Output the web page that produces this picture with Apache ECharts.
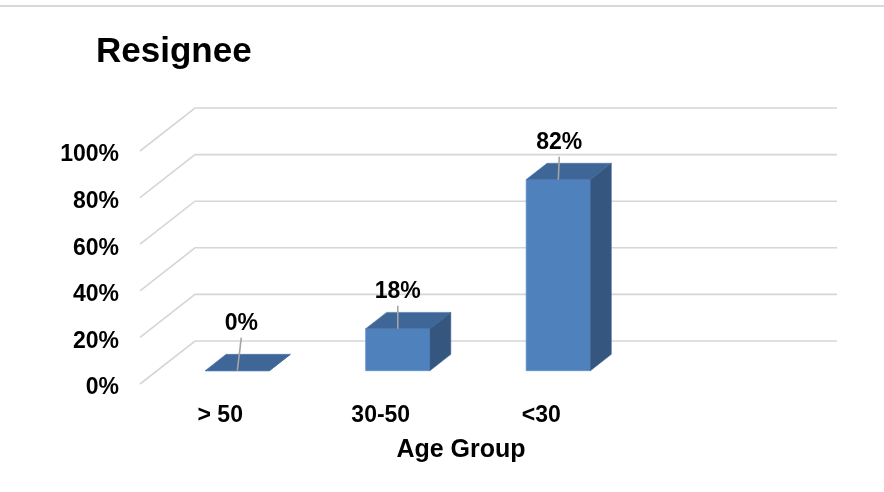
<!DOCTYPE html>
<html>
<head>
<meta charset="utf-8">
<title>Resignee</title>
<script src="https://cdn.jsdelivr.net/npm/echarts@6/dist/echarts.min.js"></script>
<style>
  html, body { margin: 0; padding: 0; background: #ffffff; }
  #chart { width: 884px; height: 492px; }
</style>
</head>
<body>
<div id="chart"></div>
<script>
// Age groups along the floor (the last slot is left empty)
const categories = ['> 50', '30-50', '<30', ''];
// Share of resignees per age group, in percent
const resigneeShare = [0, 18, 82];
// Value-axis ticks, in percent
const yTicks = [0, 20, 40, 60, 80, 100];

// Oblique depth of the plot box (front edge -> back wall), in pixels
const DEPTH_X = 55;
const DEPTH_Y = -43;
// Bars sit in the middle of the depth
const BAR_FRONT = 0.31;
const BAR_DEPTH = 0.38;
const BAR_WIDTH = 0.4;
// Data-label placement above each bar's front top edge
const LABEL_LIFT = [47, 37, 37];
const LABEL_SHIFT = [4, 0, 1];

const FONT = '"Liberation Sans", Arial, sans-serif';
const GRID_COLOR = '#d6d6d6';

const chart = echarts.init(document.getElementById('chart'), null, { renderer: 'canvas' });

function renderGridLine(params, api) {
  const cs = params.coordSys;
  const y = api.coord([0, api.value(1)])[1];
  const x0 = cs.x;
  return {
    type: 'polyline',
    shape: {
      points: [
        [x0, y],
        [x0 + DEPTH_X, y + DEPTH_Y],
        [x0 + cs.width + DEPTH_X, y + DEPTH_Y]
      ]
    },
    style: { stroke: GRID_COLOR, lineWidth: 1.6, fill: null },
    silent: true
  };
}

function renderBar(params, api) {
  const i = api.value(0);
  const v = api.value(1);
  const base = api.coord([i, 0]);
  const top = api.coord([i, v]);
  const band = api.size([1, 0])[0];
  const w = band * BAR_WIDTH;
  const fx = DEPTH_X * BAR_FRONT, fy = DEPTH_Y * BAR_FRONT;
  const bx = DEPTH_X * BAR_DEPTH, by = DEPTH_Y * BAR_DEPTH;
  const cx = base[0] + fx;
  const xl = cx - w / 2, xr = cx + w / 2;
  const yb = base[1] + fy, yt = top[1] + fy;
  const idx = params.dataIndex;
  const lift = LABEL_LIFT[idx] !== undefined ? LABEL_LIFT[idx] : 37;
  const shift = LABEL_SHIFT[idx] || 0;
  const ly = yt - lift;

  return {
    type: 'group',
    children: [
      {
        type: 'rect',
        shape: { x: xl, y: yt, width: w, height: Math.max(yb - yt, 0) },
        style: { fill: '#4f81bd', stroke: '#5d8ecb', lineWidth: 0.8 }
      },
      {
        type: 'polygon',
        shape: { points: [[xl, yt], [xr, yt], [xr + bx, yt + by], [xl + bx, yt + by]] },
        style: { fill: '#3e6696', stroke: '#4a74a8', lineWidth: 0.6 }
      },
      {
        type: 'polygon',
        shape: { points: [[xr, yt], [xr, yb], [xr + bx, yb + by], [xr + bx, yt + by]] },
        style: { fill: '#34567f', stroke: '#3f6492', lineWidth: 0.6 }
      },
      {
        type: 'line',
        shape: { x1: cx + shift, y1: ly + 14, x2: cx, y2: yt },
        style: { stroke: '#a5a5a5', lineWidth: 1.6 }
      },
      {
        type: 'text',
        style: {
          text: v + '%',
          x: cx + shift,
          y: ly,
          align: 'center',
          verticalAlign: 'middle',
          fontSize: 23,
          fontWeight: 'bold',
          fontFamily: FONT,
          fill: '#000000'
        }
      }
    ]
  };
}

const option = {
  backgroundColor: '#ffffff',
  animation: false,
  title: {
    text: 'Resignee',
    left: 91,
    top: 30,
    textStyle: { fontSize: 35, fontWeight: 'bold', fontFamily: FONT, color: '#000000' }
  },
  graphic: [
    {
      type: 'rect',
      shape: { x: 0, y: 5, width: 884, height: 2 },
      style: { fill: '#d9d9d9' },
      silent: true
    }
  ],
  grid: { left: 140, right: 102, top: 151, bottom: 108, containLabel: false },
  xAxis: {
    type: 'category',
    data: categories,
    name: 'Age Group',
    nameLocation: 'middle',
    nameGap: 54,
    nameTextStyle: { fontSize: 25, fontWeight: 'bold', fontFamily: FONT, color: '#000000' },
    axisLine: { show: false },
    axisTick: { show: false },
    splitLine: { show: false },
    axisLabel: {
      margin: 20,
      fontSize: 23,
      fontWeight: 'bold',
      fontFamily: FONT,
      color: '#000000'
    }
  },
  yAxis: {
    type: 'value',
    min: 0,
    max: 100,
    interval: 20,
    axisLine: { show: false },
    axisTick: { show: false },
    splitLine: { show: false },
    axisLabel: {
      margin: 21,
      verticalAlign: 'top',
      lineHeight: 8,
      formatter: '{value}%',
      fontSize: 23,
      fontWeight: 'bold',
      fontFamily: FONT,
      color: '#000000'
    }
  },
  series: [
    {
      type: 'custom',
      name: 'grid',
      silent: true,
      z: 1,
      renderItem: renderGridLine,
      data: yTicks.map(v => [0, v]),
      encode: { x: 0, y: 1 }
    },
    {
      type: 'custom',
      name: 'Resignee',
      z: 2,
      renderItem: renderBar,
      data: resigneeShare.map((v, i) => [i, v]),
      encode: { x: 0, y: 1 }
    }
  ]
};

chart.setOption(option);
</script>
</body>
</html>
